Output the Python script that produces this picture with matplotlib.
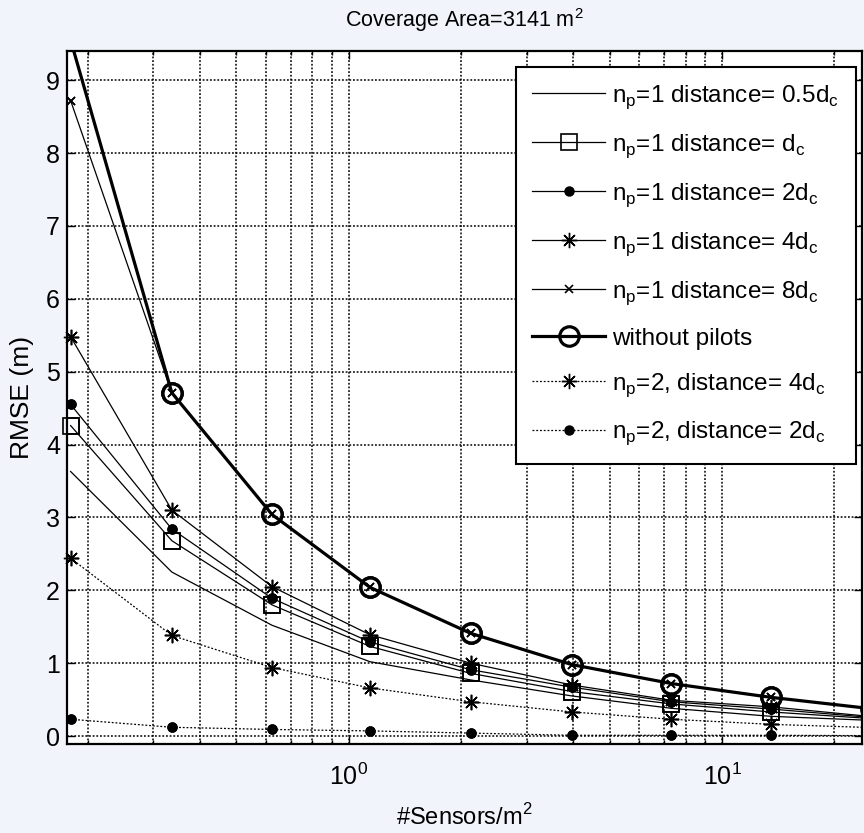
#!/usr/bin/env python3

import matplotlib
matplotlib.use('Agg')
import matplotlib.pyplot as plt
import matplotlib.ticker as mtick
import numpy as np

# RMSE vs sensor density, pilots placed at various distances.

plt.rcParams['font.family'] = ['Liberation Sans', 'DejaVu Sans']
plt.rcParams['mathtext.fontset'] = 'custom'
plt.rcParams['mathtext.rm'] = 'Liberation Sans'

# sensor density (#sensors/m^2); last point lies just past the right edge
density = [0.18, 0.336, 0.623, 1.14, 2.12, 3.96, 7.32, 13.55, 25.0]

rmse_05dc = [3.63, 2.25, 1.52, 1.02, 0.77, 0.55, 0.38, 0.27, 0.215]
rmse_dc = [4.26, 2.68, 1.80, 1.23, 0.86, 0.61, 0.44, 0.33, 0.24]
rmse_2dc = [4.55, 2.84, 1.89, 1.29, 0.91, 0.67, 0.47, 0.37, 0.255]
rmse_4dc = [5.48, 3.10, 2.05, 1.39, 1.00, 0.70, 0.49, 0.40, 0.268]
rmse_8dc = [8.72, 4.71, 3.04, 2.04, 1.41, 0.98, 0.72, 0.53, 0.376]
rmse_nopilot = [9.55, 4.71, 3.04, 2.04, 1.41, 0.98, 0.72, 0.53, 0.376]
rmse_np2_4dc = [2.44, 1.38, 0.94, 0.66, 0.47, 0.33, 0.23, 0.16, 0.116]
rmse_np2_2dc = [0.23, 0.12, 0.09, 0.07, 0.04, 0.01, 0.01, 0.01, 0.005]

labels = [
    r'n$_\mathregular{p}$=1 distance= 0.5d$_\mathregular{c}$',
    r'n$_\mathregular{p}$=1 distance= d$_\mathregular{c}$',
    r'n$_\mathregular{p}$=1 distance= 2d$_\mathregular{c}$',
    r'n$_\mathregular{p}$=1 distance= 4d$_\mathregular{c}$',
    r'n$_\mathregular{p}$=1 distance= 8d$_\mathregular{c}$',
    'without pilots',
    r'n$_\mathregular{p}$=2, distance= 4d$_\mathregular{c}$',
    r'n$_\mathregular{p}$=2, distance= 2d$_\mathregular{c}$',
]

XLIM = (0.176, 23.7)
YLIM = (-0.11, 9.4)

BG = '#f1f4fa'
ASTER = (8, 2, 0)  # matlab-ish asterisk
DOTTED = (0, (1.5, 1.5))
thin = 0.9

series = [
    (rmse_05dc, dict(ls='-', lw=thin, marker='None')),
    (rmse_dc, dict(ls='-', lw=thin, marker='s', ms=11, mfc='none', mew=1.2)),
    (rmse_2dc, dict(ls='-', lw=thin, marker='o', ms=6.5)),
    (rmse_4dc, dict(ls='-', lw=thin, marker=ASTER, ms=11, mew=1.0)),
    (rmse_8dc, dict(ls='-', lw=thin, marker='x', ms=6, mew=1.2)),
    (rmse_nopilot, dict(ls='-', lw=2.3, marker='o', ms=14, mfc='none', mew=2.3)),
    (rmse_np2_4dc, dict(ls=DOTTED, lw=thin, marker=ASTER, ms=11, mew=1.0)),
    (rmse_np2_2dc, dict(ls=DOTTED, lw=thin, marker='o', ms=6.5)),
]

fig = plt.figure(figsize=(8.64, 8.33), dpi=100, facecolor=BG)
ax = fig.add_axes([0.0775, 0.1068, 0.9202, 0.832])
ax.set_xscale('log')

x = np.array(density)
for (vals, st), lbl in zip(series, labels):
    y = np.array(vals)
    # line is clipped to the axes, markers are not (like matlab)
    ax.plot(x, y, color='k', label=lbl, **st)
    inside = (x >= XLIM[0]) & (x <= XLIM[1]) & (y >= YLIM[0]) & (y <= YLIM[1])
    mst = {k: v for k, v in st.items() if k not in ('ls', 'lw')}
    ax.plot(x[inside], y[inside], color='k', ls='None', clip_on=False, **mst)

ax.set_xlim(*XLIM)
ax.set_ylim(*YLIM)
ax.set_yticks(np.arange(0, 10))
ax.xaxis.set_major_locator(mtick.LogLocator(base=10))
ax.xaxis.set_minor_locator(mtick.LogLocator(base=10, subs=np.arange(2, 10)))
ax.xaxis.set_minor_formatter(mtick.NullFormatter())
ax.xaxis.set_major_formatter(mtick.LogFormatterSciNotation())

grid_ls = (0, (1.2, 1.2))
ax.grid(True, which='major', axis='both', color='k', lw=1.1, linestyle=grid_ls)
ax.grid(True, which='minor', axis='x', color='k', lw=1.1, linestyle=grid_ls)

ax.tick_params(which='both', direction='in', top=True, right=True,
               labelsize=18, width=1.0)
ax.tick_params(axis='x', which='both', pad=14)
ax.tick_params(axis='y', which='both', pad=5)
ax.tick_params(which='major', length=6)
ax.tick_params(which='minor', length=3)
for s in ax.spines.values():
    s.set_linewidth(1.6)

ax.set_xlabel(r'#Sensors/m$^\mathregular{2}$', fontsize=17, labelpad=10)
ax.set_ylabel('RMSE (m)', fontsize=19, labelpad=9)
ax.set_title(r'Coverage Area=3141 m$^\mathregular{2}$', fontsize=15.5, pad=17)

leg = ax.legend(loc='upper right', bbox_to_anchor=(0.9907, 0.9196),
                bbox_transform=fig.transFigure, fontsize=17.5, frameon=True,
                fancybox=False, framealpha=1, edgecolor='k',
                handlelength=3.0, handletextpad=0.3, labelspacing=0.87,
                borderpad=0.68, borderaxespad=0)
leg.get_frame().set_linewidth(1.5)
leg.set_zorder(10)

plt.savefig('out.png', dpi=100, facecolor=BG)
